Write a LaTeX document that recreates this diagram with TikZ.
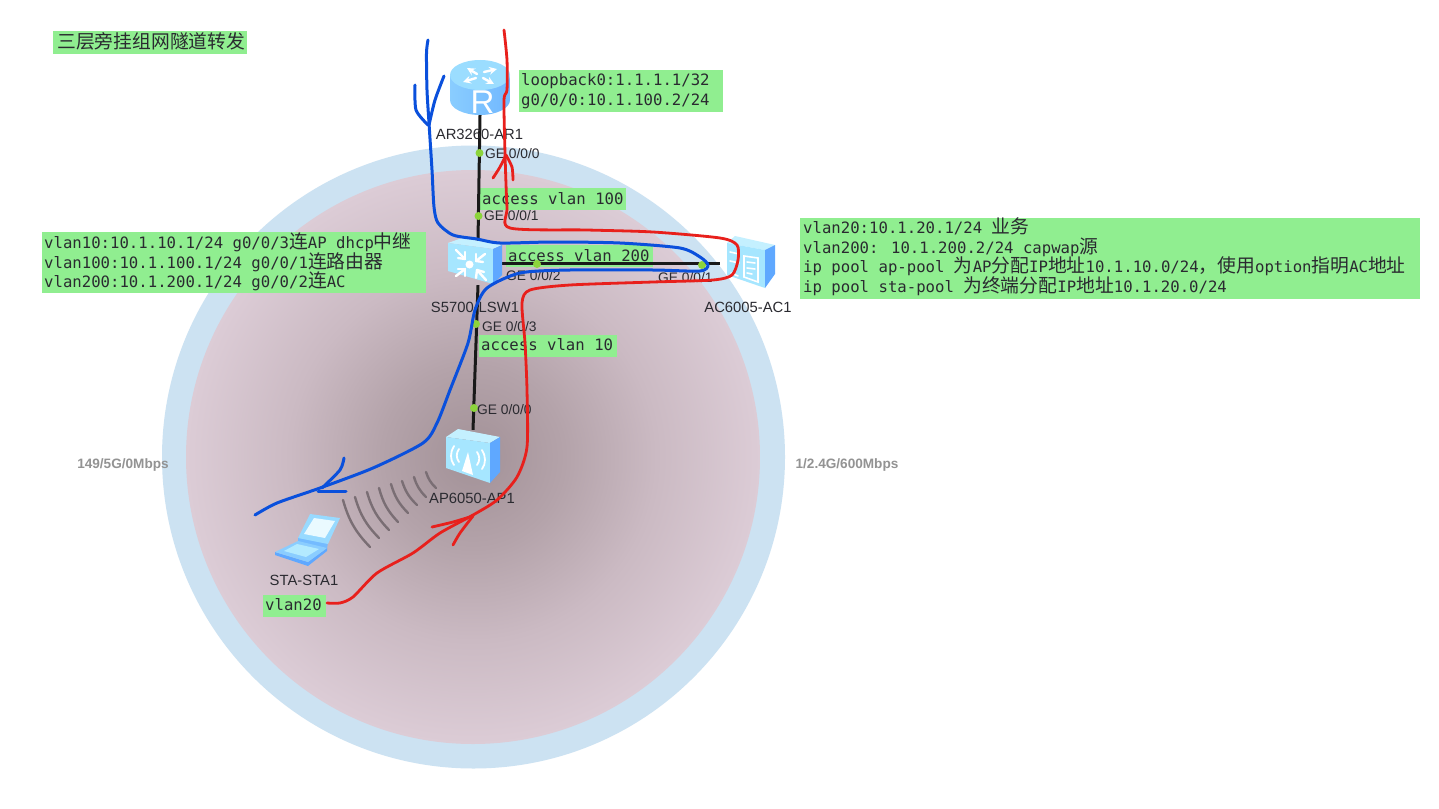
\documentclass[tikz,border=0pt]{standalone}
\usepackage{fontspec}
\setmainfont{Liberation Sans}
\newfontfamily\monof{DejaVu Sans Mono}
\newfontfamily\cjk{Noto Sans CJK SC}[Scale=1]
\newcommand{\Zh}[1]{\smash{{\cjk\fontsize{18.8}{19.6}\selectfont #1}}}
\definecolor{halo}{HTML}{CCE2F2}
\definecolor{gbg}{HTML}{90EE90}
\definecolor{blpen}{HTML}{0A50DC}
\definecolor{rdpen}{HTML}{E8201C}
\definecolor{portg}{HTML}{8CD43C}
\definecolor{txt}{HTML}{2A2A30}
\definecolor{wave}{HTML}{7A6E74}
\definecolor{dev}{HTML}{A6E6FF}
\definecolor{devtop}{HTML}{C4F0FF}
\definecolor{devside}{HTML}{5FA8FF}
\definecolor{gA}{HTML}{A29197}
\definecolor{gB}{HTML}{B4A3AA}
\definecolor{gC}{HTML}{CBBAC3}
\definecolor{gD}{HTML}{DCCCD6}
\pgfdeclareradialshading{cellglow}{\pgfpoint{0bp}{0bp}}{color(0bp)=(gA);color(8bp)=(gB);color(16bp)=(gC);color(25bp)=(gD);color(50bp)=(gD)}
\usetikzlibrary{calc}
\tikzset{
  gbox/.style={fill=gbg,draw=none,inner sep=0pt,anchor=north west},
  gtext/.style={anchor=west,inner sep=0pt,align=left,text=txt,font=\monof\fontsize{15.65}{19.6}\selectfont},
  devname/.style={inner sep=0pt,text=txt,font=\fontsize{14.8}{16}\selectfont},
  portname/.style={inner sep=0pt,anchor=west,text=txt,font=\fontsize{13.8}{15}\selectfont},
  portdot/.style={circle,fill=portg,draw=none,inner sep=0pt,minimum size=8pt},
  radio/.style={inner sep=0pt,text=gray!85,font=\bfseries\fontsize{13.6}{15}\selectfont},
  link/.style={line width=3pt,black!90},
  holder/.style={inner sep=0pt,draw=none},
  bluepen/.style={line width=3pt,blpen,line cap=round,line join=round},
  redpen/.style={line width=2.8pt,rdpen,line cap=round,line join=round},
  wifi/.style={line width=2.4pt,wave,line cap=round},
  glyph/.style={white,line width=2pt,line cap=round},
}
\begin{document}
\begin{tikzpicture}[x=1pt,y=-1pt]
\useasboundingbox (0,0) rectangle (1439,808);
\fill[white] (0,0) rectangle (1439,808);
% coverage circles
\fill[halo] (473.5,457) circle[radius=311.5];
\shade[shading=cellglow] (473,457) circle[radius=287];
% green boxes
\node[gbox,minimum width=194pt,minimum height=23pt] (btitle) at (53,31) {};
\node[gbox,minimum width=204pt,minimum height=42pt] (bloop) at (519,70) {};
\node[gbox,minimum width=146pt,minimum height=22pt] (ba100) at (480,188) {};
\node[gbox,minimum width=147pt,minimum height=22pt] (ba200) at (506,245) {};
\node[gbox,minimum width=138pt,minimum height=22pt] (ba10) at (479,335) {};
\node[gbox,minimum width=63pt,minimum height=22pt] (bv20) at (263,595) {};
\node[gbox,minimum width=384pt,minimum height=61pt] (bleft) at (42,232) {};
\node[gbox,minimum width=620pt,minimum height=81pt] (bright) at (800,218) {};
% invisible device holders
\node[holder,minimum width=60pt,minimum height=54pt] (ar) at (480,88) {};
\node[holder,minimum width=48pt,minimum height=44pt] (lsw) at (478,263) {};
\node[holder,minimum width=50pt,minimum height=50pt] (ac) at (745,263) {};
\node[holder,minimum width=54pt,minimum height=52pt] (ap) at (473,456) {};
\node[holder,minimum width=65pt,minimum height=50pt] (sta) at (307,538) {};
% port dots positions
\coordinate (pa) at (479.5,153);
\coordinate (pb) at (478.5,216);
\coordinate (pc) at (537,264);
\coordinate (pd) at (702,265);
\coordinate (pe) at (476,324);
\coordinate (pf) at (474,408);
% links
\draw[link] (ar.south) -- (lsw.north);
\draw[link] (lsw.east) -- (ac.west);
\draw[link] (lsw.south) -- (ap.north);
% wireless
\draw[wifi] (343,500) to[bend right=14] (370,547);
\draw[wifi] (355,497) to[bend right=14] (379,538);
\draw[wifi] (367,492) to[bend right=14] (389,530);
\draw[wifi] (379,488) to[bend right=14] (398,522);
\draw[wifi] (391,484) to[bend right=14] (408,513);
\draw[wifi] (402,481) to[bend right=14] (417,505);
\draw[wifi] (414,477) to[bend right=14] (426,497);
\draw[wifi] (426,472) to[bend right=14] (436,488);
% router icon
\shade[left color=dev!60!devside,right color=devside!75!dev] (450,75) -- (450,100) arc[start angle=180,end angle=0,x radius=30,y radius=15] -- (510,75) -- cycle;
\fill[dev!85!devside] (480,75) circle[x radius=30,y radius=15];
\begin{scope}[glyph,line width=2.4pt]
  \draw[-stealth] (477,74) -- (467,68);
  \draw[-stealth] (484,72) -- (497,69);
  \draw[-stealth] (476,78) -- (463,82);
  \draw[-stealth] (483,78) -- (494,84);
\end{scope}
\node[inner sep=0pt,text=white,font=\fontsize{33}{33}\selectfont] (rtext) at (482.5,102) {R};
% switch icon
\fill[devtop] (448,243) -- (462,238) -- (502,245) -- (493,249) -- cycle;
\fill[dev] (448,243) -- (493,249) -- (493,284) -- (448,271) -- cycle;
\fill[devside] (493,249) -- (502,245) -- (502,275) -- (493,284) -- cycle;
\fill[white] (469.5,264.5) circle[radius=4];
\begin{scope}[glyph,line width=2.4pt]
  \draw (456,250) -- (465,259); \draw (465,259) -- (465,252); \draw (465,259) -- (458,258);
  \draw (485,254) -- (476,261); \draw (476,261) -- (483,262); \draw (476,261) -- (476,254);
  \draw (456,276) -- (465,269); \draw (465,269) -- (458,269); \draw (465,269) -- (465,276);
  \draw (486,280) -- (477,270); \draw (477,270) -- (484,272); \draw (477,270) -- (476,278);
\end{scope}
% AC icon
\fill[devtop] (727,243) -- (735,236) -- (775,245) -- (765,250) -- cycle;
\fill[dev] (727,243) -- (765,250) -- (765,288) -- (727,275) -- cycle;
\fill[devside] (765,250) -- (775,245) -- (775,274) -- (765,288) -- cycle;
\begin{scope}[glyph,line width=1.6pt]
  \draw (744,256) -- (758,258) -- (758,282) -- (744,277) -- cycle;
  \draw (747,262) -- (755,263); \draw (747,268) -- (755,269); \draw (747,273) -- (752,274);
  \draw (730,252) -- (739,254); \draw (730,261) -- (739,263); \draw (731,273) -- (738,276);
\end{scope}
% AP icon
\fill[devtop] (446,437) -- (458,429) -- (500,437) -- (490,443) -- cycle;
\fill[dev] (446,437) -- (490,443) -- (490,483) -- (446,468) -- cycle;
\fill[devside] (490,443) -- (500,437) -- (500,472) -- (490,483) -- cycle;
\fill[white] (468,452) -- (473,475) -- (462,471) -- cycle;
\begin{scope}[glyph,line width=1.8pt]
  \draw (459,449) .. controls (456,453) and (456,458) .. (459,462);
  \draw (454,446) .. controls (450,452) and (450,460) .. (454,465);
  \draw (477,452) .. controls (480,456) and (480,461) .. (477,465);
  \draw (482,450) .. controls (486,456) and (486,464) .. (482,469);
\end{scope}
% laptop icon
\fill[devside!70!dev] (298,537) -- (328,542) -- (327,549) -- (298,543) -- cycle;
\fill[dev!80!devside] (310,514) -- (340,518) -- (328,544) -- (298,538) -- cycle;
\fill[devtop!35!white] (314,518) -- (335,521) -- (325,538) -- (304,534) -- cycle;
\fill[devside] (275,552) -- (308,562) -- (327,548) -- (327,551) -- (308,566) -- (275,555) -- cycle;
\fill[dev!60!devside] (298,541) -- (327,548) -- (308,562) -- (275,552) -- cycle;
\fill[dev!85!white] (297,544) -- (319,549) -- (306,557) -- (284,551) -- cycle;
% port dots
\node[portdot] (dota) at (pa) {};
\node[portdot] (dotb) at (pb) {};
\node[portdot] (dotc) at (pc) {};
\node[portdot] (dotd) at (pd) {};
\node[portdot] (dote) at (pe) {};
\node[portdot] (dotf) at (pf) {};
% device names
\node[devname] (nar) at (479.5,134) {AR3260-AR1};
\node[devname] (nlsw) at (475,307) {S5700-LSW1};
\node[devname] (nac) at (748,307) {AC6005-AC1};
\node[devname] (nap) at (472,498) {AP6050-AP1};
\node[devname] (nsta) at (304,580) {STA-STA1};
% radio labels
\node[radio] (r5) at (123,465) {149/5G/0Mbps};
\node[radio] (r2) at (847,465) {1/2.4G/600Mbps};
% box texts
\node[gtext] (ttitle) at ([xshift=4pt,yshift=-6pt]btitle.west) {\Zh{三层旁挂组网隧道转发}};
\node[gtext] (tloop) at ([xshift=2pt]bloop.west) {loopback0:1.1.1.1/32\\g0/0/0:10.1.100.2/24};
\node[gtext] (ta100) at ([xshift=2pt,yshift=1pt]ba100.west) {access vlan 100};
\node[gtext] (ta200) at ([xshift=2pt,yshift=1pt]ba200.west) {access vlan 200};
\node[gtext] (ta10) at ([xshift=2pt,yshift=2pt]ba10.west) {access vlan 10};
\node[gtext] (tv20) at ([xshift=2pt,yshift=2pt]bv20.west) {vlan20};
\node[gtext] (tleft) at ([xshift=2pt,yshift=-1pt]bleft.west) {vlan10:10.1.10.1/24 g0/0/3\Zh{连}AP dhcp\Zh{中继}\\vlan100:10.1.100.1/24 g0/0/1\Zh{连路由器}\\vlan200:10.1.200.1/24 g0/0/2\Zh{连}AC};
\node[gtext] (tright) at ([xshift=3pt]bright.west) {vlan20:10.1.20.1/24 \Zh{业务}\\vlan200: 10.1.200.2/24 capwap\Zh{源}\\ip pool ap-pool \Zh{为}AP\Zh{分配}IP\Zh{地址}10.1.10.0/24\Zh{，使用}option\Zh{指明}AC\Zh{地址}\\ip pool sta-pool \Zh{为终端分配}IP\Zh{地址}10.1.20.0/24};
% port names
\node[portname] (la) at (485,153.5) {GE 0/0/0};
\node[portname] (lb) at (484,215.5) {GE 0/0/1};
\node[portname] (lc) at (506,276) {GE 0/0/2};
\node[portname] (ld) at (658,278) {GE 0/0/1};
\node[portname] (le) at (482,326.5) {GE 0/0/3};
\node[portname] (lf) at (477,410) {GE 0/0/0};
% blue pen
\draw[bluepen] plot[smooth,tension=0.45] coordinates {(428,40) (426.5,53) (427,90) (429,123) (432,170) (434,207) (438,223) (453,235) (477,239) (500,243) (553,242) (620,243) (680,248) (700,257) (708,265) (700,271) (653,270) (570,270) (520,273) (487,288) (475,310) (468,343) (450,390) (437,423) (423,443) (373,468) (320,488) (277,503) (255,515)};
\draw[bluepen] plot[smooth,tension=0.45] coordinates {(415,85) (416,110) (428,125)};
\draw[bluepen] plot[smooth,tension=0.45] coordinates {(444,76) (435,100) (429,125)};
\draw[bluepen] plot[smooth,tension=0.45] coordinates {(344,458) (340,470) (322,488)};
\draw[bluepen] (318,491) -- (346,491);
% red pen
\draw[redpen] plot[smooth,tension=0.45] coordinates {(504,30) (507,60) (507,90) (504,100) (505,153) (507,207) (510,228) (587,230) (653,232) (720,238) (737,245) (738,260) (732,275) (713,280) (653,282) (570,285) (530,290) (522,303) (525,343) (527,390) (527,447) (517,477) (497,500) (473,515) (440,533) (413,553) (377,573) (353,597) (340,603) (327,603)};
\draw[redpen] plot[smooth,tension=0.45] coordinates {(493,178) (500,167) (506,155)};
\draw[redpen] plot[smooth,tension=0.45] coordinates {(506,155) (512,167) (513,180)};
\draw[redpen] plot[smooth,tension=0.45] coordinates {(432,527) (453,522) (473,516)};
\draw[redpen] plot[smooth,tension=0.45] coordinates {(473,516) (460,533) (453,545)};
\end{tikzpicture}
\end{document}
